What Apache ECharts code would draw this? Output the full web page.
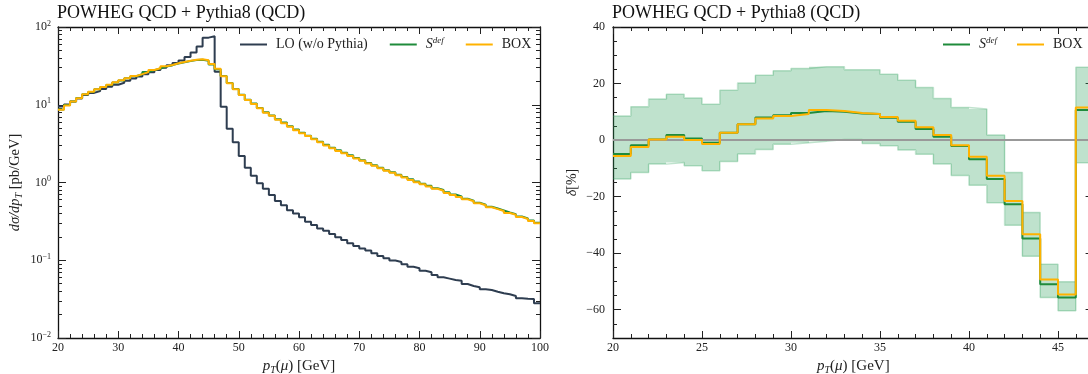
<!DOCTYPE html>
<html>
<head>
<meta charset="utf-8">
<script src="https://cdn.jsdelivr.net/npm/echarts@6/dist/echarts.min.js"></script>
<style>
  html, body { margin: 0; padding: 0; background: #fff; }
  #main { width: 1088px; height: 374px; }
</style>
</head>
<body>
<div id="main"></div>
<script>
// pT bins are 1 GeV wide, first bin starts at 20 GeV
const leftStart = 20
const rightStart = 20

// left panel: dsigma/dpT [pb/GeV], bins 20..99
const loVals = [
  9.5, 10.1, 11.0, 12.0, 13.3, 14.2, 15.0, 16.0, 17.0, 18.1,
  19.2, 20.4, 21.7, 23.1, 24.6, 26.2, 28.0, 30.0, 32.2, 34.4,
  37.0, 41.0, 47.0, 56.0, 73.0, 76.0, 26.5, 9.4, 4.9, 3.3,
  2.2, 1.55, 1.22, 0.98, 0.83, 0.69, 0.58, 0.51, 0.44, 0.40,
  0.356, 0.313, 0.284, 0.257, 0.24, 0.218, 0.197, 0.182, 0.165, 0.152,
  0.142, 0.133, 0.123, 0.113, 0.106, 0.099, 0.095, 0.089, 0.0825, 0.0787,
  0.0734, 0.070, 0.0646, 0.0603, 0.058, 0.0557, 0.0546, 0.0495, 0.0467, 0.0449,
  0.0423, 0.0414, 0.0394, 0.0376, 0.0365, 0.0347, 0.0324, 0.032, 0.0318, 0.0279
]
const sdefVals = [
  8.7, 9.9, 11.0, 12.2, 13.6, 14.6, 15.8, 16.9, 18.0, 19.3,
  20.5, 21.9, 23.3, 24.7, 26.3, 27.9, 29.3, 31.0, 32.3, 33.9,
  35.2, 36.5, 37.5, 38.0, 36.8, 32.9, 28.6, 23.4, 19.1, 16.0,
  13.4, 11.6, 10.4, 9.1, 8.0, 7.3, 6.5, 5.9, 5.3, 4.8,
  4.35, 4.0, 3.66, 3.35, 3.05, 2.8, 2.6, 2.42, 2.24, 2.06,
  1.93, 1.78, 1.67, 1.55, 1.44, 1.35, 1.26, 1.18, 1.1, 1.03,
  0.965, 0.905, 0.845, 0.8, 0.75, 0.70, 0.662, 0.62, 0.585, 0.548,
  0.518, 0.488, 0.462, 0.436, 0.411, 0.39, 0.366, 0.345, 0.325, 0.303
]
const boxVals = [
  8.6, 9.8, 11.0, 12.1, 13.6, 14.7, 15.8, 16.9, 18.1, 19.4,
  20.6, 21.9, 23.4, 24.8, 26.3, 28.0, 29.4, 31.2, 32.5, 34.1,
  35.5, 36.9, 38.0, 38.5, 37.3, 33.5, 29.0, 23.2, 18.9, 15.8,
  13.3, 11.5, 10.2, 9.0, 7.9, 7.2, 6.4, 5.8, 5.2, 4.7,
  4.3, 3.95, 3.6, 3.3, 3.0, 2.75, 2.55, 2.38, 2.2, 2.03,
  1.9, 1.76, 1.64, 1.52, 1.42, 1.33, 1.24, 1.16, 1.08, 1.01,
  0.95, 0.89, 0.83, 0.785, 0.735, 0.69, 0.65, 0.61, 0.575, 0.54,
  0.51, 0.48, 0.455, 0.43, 0.405, 0.385, 0.36, 0.34, 0.32, 0.30
]

// right panel: delta [%], bins 20..46
const sdefDelta = [-4.9, -1.8, 0.2, 1.8, 0.6, -0.9, 2.6, 5.6, 8.0, 8.8, 9.6, 10.3, 10.0, 9.4, 9.2, 7.9, 6.5, 3.9, 1.2, -2.1, -6.8, -13.8, -22.7, -34.8, -51.0, -55.7, 10.6]
const boxDelta = [-5.6, -2.4, 0.2, 1.2, 0.0, -1.4, 2.6, 5.6, 7.6, 8.5, 9.2, 10.6, 10.3, 9.6, 9.2, 8.2, 6.8, 4.5, 1.8, -1.8, -5.9, -12.6, -21.5, -33.3, -49.3, -54.6, 11.5]
const bandUpper = [8.5, 11.8, 14.5, 16.2, 14.9, 12.7, 17.6, 20.2, 22.9, 24.5, 25.3, 25.9, 25.9, 24.9, 24.9, 23.3, 21.2, 18.6, 14.7, 11.5, 11.0, 1.8, -11.5, -25.6, -43.9, -50.1, 25.8]
const bandLower = [-13.8, -11.5, -8.5, -7.9, -9.1, -10.8, -7.6, -4.9, -3.3, -1.5, -0.9, -0.4, 0.2, 0.2, -1.2, -2.0, -3.5, -5.0, -8.5, -12.5, -16.0, -22.2, -30.1, -41.1, -55.7, -60.4, -8.0]

// tick positions
const logMajor = [0.01, 0.1, 1, 10, 100]
const logMinor = [0.02, 0.03, 0.04, 0.05, 0.06, 0.07, 0.08, 0.09, 0.2, 0.3, 0.4, 0.5, 0.6, 0.7, 0.8, 0.9,
  2, 3, 4, 5, 6, 7, 8, 9, 20, 30, 40, 50, 60, 70, 80, 90]
const deltaMajor = [-60, -40, -20, 0, 20, 40]
const deltaMinor = [-65, -55, -50, -45, -35, -30, -25, -15, -10, -5, 5, 10, 15, 25, 30, 35]

const FONT = 'Liberation Serif'
const C_LO = '#2e3d50'
const C_SDEF = '#1f8b3b'
const C_BOX = '#ffb200'
const C_BAND = 'rgba(44, 160, 90, 0.3)'
const C_BAND_EDGE = 'rgba(44, 160, 90, 0.3)'

// histogram -> step points (left edges + closing right edge)
function steps(vals, start) {
  const pts = vals.map((v, i) => [start + i, v])
  pts.push([start + vals.length, vals[vals.length - 1]])
  return pts
}

const lineAx = { show: true, onZero: false, lineStyle: { color: '#111', width: 1.3 } }
const tickStyle = { color: '#222', width: 1 }

function xAxisOf(grid, pos, min, max, interval, withLabel) {
  const ax = {
    gridIndex: grid, type: 'value', position: pos, min, max, interval,
    axisLine: lineAx,
    axisTick: { show: true, inside: true, length: 7, lineStyle: tickStyle },
    minorTick: { show: true, splitNumber: 5, length: 4, lineStyle: tickStyle },
    axisLabel: { show: withLabel, fontFamily: FONT, fontSize: 12, color: '#222', margin: 4, showMaxLabel: max === 100 },
    splitLine: { show: false },
    minorSplitLine: { show: false }
  }
  if (withLabel) {
    ax.name = '{i|p}{sub|T}{n|(}{i|μ}{n|) [GeV]}'
    ax.nameLocation = 'middle'
    ax.nameGap = 11
    ax.nameTextStyle = {
      fontFamily: FONT, fontSize: 15, color: '#222',
      rich: {
        i: { fontFamily: FONT, fontSize: 15, fontStyle: 'italic', color: '#222' },
        n: { fontFamily: FONT, fontSize: 15, color: '#222' },
        sub: { fontFamily: FONT, fontSize: 10, fontStyle: 'italic', color: '#222', padding: [7, 0, 0, 0] }
      }
    }
  }
  return ax
}

function yAxisOf(grid, pos, type, min, max, ticks, len, withLine) {
  const ax = {
    gridIndex: grid, type, position: pos, min, max,
    axisLine: withLine ? lineAx : { show: false, onZero: false },
    axisTick: { show: true, inside: true, length: len, customValues: ticks, lineStyle: tickStyle },
    axisLabel: { show: false },
    splitLine: { show: false }
  }
  if (type === 'log') ax.logBase = 10
  return ax
}

const yLog = yAxisOf(0, 'left', 'log', 0.01, 100, logMajor, 8, true)
yLog.axisLabel = {
  show: true, customValues: logMajor, margin: 7,
  formatter: v => {
    const e = Math.round(Math.log10(v))
    return '{b|10}{e|' + (e < 0 ? '−' + (-e) : e) + '}'
  },
  rich: {
    b: { fontFamily: FONT, fontSize: 12, color: '#222' },
    e: { fontFamily: FONT, fontSize: 8, color: '#222', padding: [0, 0, 7, 0] }
  }
}
yLog.name = '{i|dσ/dp}{sub|T} [pb/GeV]'
yLog.nameLocation = 'middle'
yLog.nameGap = 34
yLog.nameTextStyle = {
  fontFamily: FONT, fontSize: 14.5, color: '#222',
  rich: {
    i: { fontFamily: FONT, fontSize: 14.5, fontStyle: 'italic', color: '#222' },
    sub: { fontFamily: FONT, fontSize: 10, fontStyle: 'italic', color: '#222', padding: [7, 0, 0, 0] }
  }
}

const yDelta = yAxisOf(1, 'left', 'value', -70, 40, deltaMajor, 8, true)
yDelta.axisLabel = {
  show: true, customValues: deltaMajor, margin: 8,
  fontFamily: FONT, fontSize: 12, color: '#222',
  formatter: v => (v < 0 ? '−' + (-v) : String(v))
}
yDelta.name = '{i|δ}[%]'
yDelta.nameLocation = 'middle'
yDelta.nameGap = 34
yDelta.nameTextStyle = {
  fontFamily: FONT, fontSize: 14, color: '#222',
  rich: { i: { fontFamily: FONT, fontSize: 14, fontStyle: 'italic', color: '#222' } }
}

const legendBase = {
  top: 36, padding: 0, icon: 'rect', itemWidth: 27, itemHeight: 2, itemGap: 22,
  selectedMode: false,
  formatter: name => (name === 'Sdef' ? '{i|S}{sup|def}' : name),
  textStyle: {
    fontFamily: FONT, fontSize: 14, color: '#222', padding: [0, 0, 0, 4],
    rich: {
      i: { fontFamily: FONT, fontSize: 14, fontStyle: 'italic', color: '#222' },
      sup: { fontFamily: FONT, fontSize: 9, fontStyle: 'italic', color: '#222', padding: [0, 0, 8, 0] }
    }
  }
}

function stepLine(name, xi, yi, data, color, width, z) {
  return {
    name, type: 'line', step: 'end', xAxisIndex: xi, yAxisIndex: yi,
    data, symbol: 'none', silent: true, z,
    lineStyle: { color, width }, itemStyle: { color }
  }
}

const zeroLine = stepLine('edge-lo', 2, 4, steps(bandLower, rightStart), C_BAND_EDGE, 1.5, 2)
zeroLine.markLine = {
  silent: true, symbol: 'none', label: { show: false },
  lineStyle: { color: '#999', width: 2, type: 'solid' },
  data: [{ yAxis: 0 }]
}

const chart = echarts.init(document.getElementById('main'), null, { renderer: 'canvas' })

chart.setOption({
  animation: false,
  backgroundColor: '#fff',
  title: [
    { text: 'POWHEG QCD + Pythia8 (QCD)', left: 57, top: 4, padding: 0,
      textStyle: { fontFamily: FONT, fontSize: 18, fontWeight: 'normal', color: '#111' } },
    { text: 'POWHEG QCD + Pythia8 (QCD)', left: 612, top: 4, padding: 0,
      textStyle: { fontFamily: FONT, fontSize: 18, fontWeight: 'normal', color: '#111' } }
  ],
  legend: [
    Object.assign({}, legendBase, { data: ['LO (w/o Pythia)', 'Sdef', 'BOX'], left: 240 }),
    Object.assign({}, legendBase, { data: ['Sdef', 'BOX'], left: 943, itemGap: 20 })
  ],
  grid: [
    { left: 58, top: 27, width: 482, height: 311, outerBoundsMode: 'none' },
    { left: 613, top: 27, width: 480.6, height: 311, outerBoundsMode: 'none' }
  ],
  xAxis: [
    xAxisOf(0, 'bottom', 20, 100, 10, true),
    xAxisOf(0, 'top', 20, 100, 10, false),
    xAxisOf(1, 'bottom', 20, 47, 5, true),
    xAxisOf(1, 'top', 20, 47, 5, false)
  ],
  yAxis: [
    yLog,
    yAxisOf(0, 'left', 'log', 0.01, 100, logMinor, 4, false),
    yAxisOf(0, 'right', 'log', 0.01, 100, logMajor, 8, true),
    yAxisOf(0, 'right', 'log', 0.01, 100, logMinor, 4, false),
    yDelta,
    yAxisOf(1, 'left', 'value', -70, 40, deltaMinor, 4, false),
    yAxisOf(1, 'right', 'value', -70, 40, deltaMajor, 8, true),
    yAxisOf(1, 'right', 'value', -70, 40, deltaMinor, 4, false)
  ],
  series: [
    stepLine('LO (w/o Pythia)', 0, 0, steps(loVals, leftStart), C_LO, 2, 3),
    stepLine('Sdef', 0, 0, steps(sdefVals, leftStart), C_SDEF, 2, 4),
    stepLine('BOX', 0, 0, steps(boxVals, leftStart), C_BOX, 2, 5),
    {
      name: 'band', type: 'custom', xAxisIndex: 2, yAxisIndex: 4, silent: true, z: 1, clip: true,
      data: bandLower.map((lo, i) => [rightStart + i, rightStart + i + 1, lo, bandUpper[i]]),
      encode: { x: [0, 1], y: [2, 3] },
      renderItem: (params, api) => {
        const a = api.coord([api.value(0), api.value(3)])
        const b = api.coord([api.value(1), api.value(2)])
        const x0 = Math.round(a[0])
        const x1 = Math.round(b[0])
        return {
          type: 'rect',
          shape: { x: x0, y: a[1], width: x1 - x0, height: b[1] - a[1] },
          style: { fill: C_BAND }
        }
      }
    },
    stepLine('edge-hi', 2, 4, steps(bandUpper, rightStart), C_BAND_EDGE, 1.5, 2),
    zeroLine,
    stepLine('Sdef', 2, 4, steps(sdefDelta, rightStart), C_SDEF, 2, 4),
    stepLine('BOX', 2, 4, steps(boxDelta, rightStart), C_BOX, 2, 5)
  ]
})
</script>
</body>
</html>
